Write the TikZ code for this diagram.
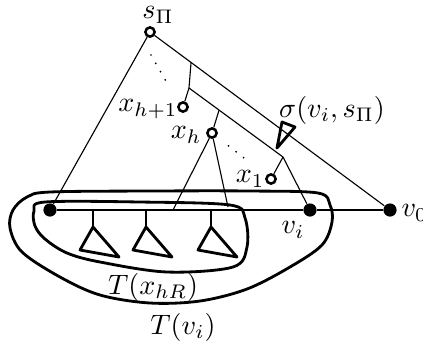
\documentclass[tikz,border=0pt]{standalone}
\usetikzlibrary{calc}

\begin{document}
\begin{tikzpicture}[
  x=0.125mm, y=-0.125mm, font=\normalsize,
  hollow/.style={circle, draw, line width=0.9pt, fill=white, inner sep=0pt, minimum size=1.15mm},
  fdot/.style={circle, fill=black, inner sep=0pt, minimum size=1.65mm},
  link/.style={line width=0.4pt},
  heavy/.style={line width=1pt, line join=round},
  dots/.style={line width=0.7pt, line cap=round, dash pattern=on 0pt off 3.4pt},
  lab/.style={inner sep=0pt},
]
\useasboundingbox (0,0) rectangle (423,346);

% Subtree hanging below the path: stem and triangle.
\newcommand{\subtree}[1]{%
  \draw[heavy] (#1,211) -- (#1,227);
  \draw[heavy] (#1,227) -- ({#1-13},250) -- ({#1+26},257) -- cycle;
}

% ---------------- path and its vertices ----------------
\node[fdot] (u)  at (50,210)  {};
\node[fdot] (vi) at (310,210) {};
\node[fdot] (v0) at (390,210) {};
\draw[heavy] (u) -- (vi) -- (v0);
\foreach \t in {93,146,211}
  {\subtree{\t}}

% ---------------- regions ----------------
\draw[heavy] plot[smooth cycle, tension=0.55] coordinates {
  (45,202) (140,202) (230,205) (245,218) (247,247) (233,267)
  (167,272) (100,262) (67,253) (45,239) (35,226) (34,211)};
\draw[heavy] plot[smooth cycle, tension=0.55] coordinates {
  (50,192) (150,191) (250,191) (318,193) (330,205) (332,222)
  (322,245) (290,267) (247,289) (200,301) (150,303) (100,295)
  (60,277) (22,252) (10,228) (13,210) (27,197)};

% ---------------- ancestors ----------------
\node[hollow] (s)   at (150,32)  {};
\node[hollow] (xh1) at (183,107) {};
\node[hollow] (xh)  at (212,133) {};
\node[hollow] (x1)  at (271,179) {};
\coordinate (jt) at ($(s)!0.171!(v0)$);
\coordinate (ja) at (189,88);
\coordinate (j1) at (283,157);
\coordinate (jh) at ($(ja)!0.32!(j1)$);
\coordinate (hA) at (173,210);
\coordinate (hB) at (228,207);

\draw[link] (s) -- (u);
\draw[link] (s) -- (v0);
\draw[link] (jt) -- (ja) -- (j1) -- (vi);
\draw[link] (ja) -- (xh1);
\draw[link] (jh) -- (xh);
\draw[link] (j1) -- (x1);
\draw[link] (hA) -- (xh) -- (hB);
\draw[dots] (151,55) -- (167,83);
\draw[dots] ($(xh)!0.28!(x1)$) -- ($(xh)!0.66!(x1)$);

% sigma(v_i, s_Pi) marker
\draw[heavy] (282,122) -- (295,127) -- (277,148) -- cycle;

% ---------------- labels ----------------
\node[lab] (sl) at (158,15) {$s_\Pi$};
\node[lab, anchor=east] (xh1l) at (178,109) {$x_{h+1}$};
\node[lab, anchor=east] (xhl) at (202,135) {$x_h$};
\node[lab, anchor=east] (x1l) at (265,179) {$x_1$};
\node[lab] (sigl) at (332,110) {$\sigma(v_i,s_\Pi)$};
\node[lab] (vil) at (293,230) {$v_i$};
\node[lab, anchor=west] (v0l) at (401,213) {$v_0$};
\node[lab] (txl) at (153,287) {$T(x_{hR})$};
\node[lab] (tvl) at (183,327) {$T(v_i)$};
\end{tikzpicture}
\end{document}
